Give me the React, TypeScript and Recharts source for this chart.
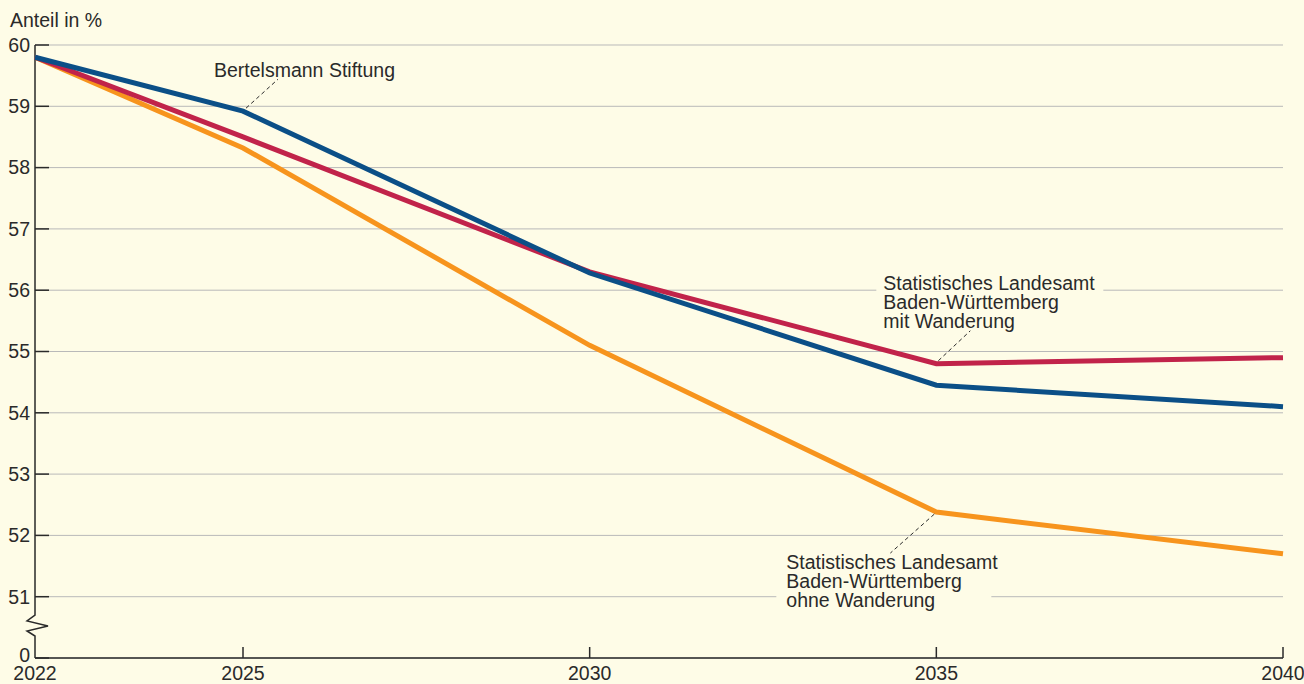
import { LineChart, Line, XAxis, YAxis, CartesianGrid, ReferenceLine, LabelList } from "recharts";

const years = [2022, 2025, 2030, 2035, 2040];
const bertelsmann = [59.8, 58.92, 56.28, 54.45, 54.1];
const mitWanderung = [59.8, 58.5, 56.3, 54.8, 54.9];
const ohneWanderung = [59.8, 58.32, 55.1, 52.38, 51.7];
const yTicks = [50, 51, 52, 53, 54, 55, 56, 57, 58, 59, 60];
const yTickLabels: Record<number, string> = { 50: "0" };

const data = years.map((year, i) => ({
  year,
  bertelsmann: bertelsmann[i],
  mit: mitWanderung[i],
  ohne: ohneWanderung[i],
}));

const BG = "#fefce7";
const TEXT = "#2a2a2a";
const FONT = "'Liberation Sans', Arial, sans-serif";
const FS = 19.5;
const LH = 19;

const YTick = ({ x, y, payload }: any) => (
  <g>
    <line x1={x} y1={y} x2={x + 14} y2={y} stroke={TEXT} strokeWidth={1.5} />
    <text x={x - 5} y={payload.value === 50 ? y - 3 : y} dy="0.35em" textAnchor="end" fontSize={FS} fill={TEXT} fontFamily={FONT}>
      {yTickLabels[payload.value] ?? String(payload.value)}
    </text>
  </g>
);

const XTick = ({ x, y, payload, index }: any) => (
  <g>
    {index > 0 && <line x1={x} y1={y} x2={x} y2={y - 11} stroke={TEXT} strokeWidth={1.5} />}
    <text x={x} y={y + 22} textAnchor="middle" fontSize={FS} fill={TEXT} fontFamily={FONT}>
      {payload.value}
    </text>
  </g>
);

// broken y axis: straight line down to just below 51, zigzag, then on to 0
const BrokenAxis = ({ x1, y1, x2, y2 }: any) => {
  const x = x1;
  const top = Math.min(y1, y2);
  const bot = Math.max(y1, y2);
  const pts = [
    [x, top],
    [x, bot - 43],
    [x - 8, bot - 37],
    [x + 13, bot - 32],
    [x - 8, bot - 27],
    [x, bot - 22],
    [x, bot],
  ];
  return (
    <polyline
      points={pts.map((p) => p.join(",")).join(" ")}
      fill="none"
      stroke={TEXT}
      strokeWidth={1.5}
    />
  );
};

const Note = ({ lines, tx, ty, lx1, ly1, lx2, ly2, rect }: any) => (
  <g>
    {rect && <rect x={rect[0]} y={rect[1]} width={rect[2]} height={rect[3]} fill={BG} />}
    <line x1={lx1} y1={ly1} x2={lx2} y2={ly2} stroke={TEXT} strokeWidth={1} strokeDasharray="4 3" />
    <text x={tx} y={ty} fontSize={FS} fill={TEXT} fontFamily={FONT}>
      {lines.map((l: string, i: number) => (
        <tspan key={i} x={tx} dy={i === 0 ? 0 : LH}>
          {l}
        </tspan>
      ))}
    </text>
  </g>
);

const makeLabel = (target: number, kind: string) => (props: any) => {
  const { x, y, index } = props;
  if (index !== target) return null;
  if (kind === "b")
    return <Note lines={["Bertelsmann Stiftung"]} tx={x - 29} ty={y - 34} lx1={x + 3} ly1={y - 3} lx2={x + 35} ly2={y - 32} />;
  if (kind === "m")
    return (
      <Note
        lines={["Statistisches Landesamt", "Baden-Württemberg", "mit Wanderung"]}
        tx={x - 53}
        ty={y - 74}
        lx1={x + 2}
        ly1={y - 3}
        lx2={x + 34}
        ly2={y - 33}
        rect={[x - 60, y - 90, 227, 58]}
      />
    );
  return (
    <Note
      lines={["Statistisches Landesamt", "Baden-Württemberg", "ohne Wanderung"]}
      tx={x - 150}
      ty={y + 57}
      lx1={x - 2}
      ly1={y + 2}
      lx2={x - 46}
      ly2={y + 41}
      rect={[x - 160, y + 41, 215, 60]}
    />
  );
};

export default function App() {
  return (
    <div style={{ position: "absolute", left: 0, top: 0, width: 1304, height: 684, background: BG, overflow: "hidden" }}>
      <div style={{ position: "absolute", left: 10, top: 8, fontSize: FS, fontFamily: FONT, color: TEXT, lineHeight: "24px" }}>
        Anteil in %
      </div>
      <LineChart width={1304} height={684} data={data} margin={{ top: 45, right: 21, bottom: 0, left: 0 }}>
        <CartesianGrid vertical={false} stroke="#b9b9b9" strokeWidth={1} />
        <XAxis
          dataKey="year"
          type="number"
          domain={[2022, 2040]}
          ticks={years}
          height={26}
          tickSize={0}
          tickMargin={0}
          tick={<XTick />}
          axisLine={{ stroke: TEXT, strokeWidth: 1.5 }}
          tickLine={false}
          interval={0}
        />
        <YAxis
          type="number"
          domain={[50, 60]}
          ticks={yTicks}
          width={35}
          tickSize={0}
          tickMargin={0}
          tick={<YTick />}
          axisLine={false}
          tickLine={false}
          interval={0}
        />
        <ReferenceLine
          segment={[
            { x: 2022, y: 60 },
            { x: 2022, y: 50 },
          ]}
          shape={<BrokenAxis />}
        />
        <Line type="linear" dataKey="ohne" stroke="#f7941d" strokeWidth={5} dot={false} isAnimationActive={false}>
          <LabelList dataKey="ohne" content={makeLabel(3, "o")} />
        </Line>
        <Line type="linear" dataKey="mit" stroke="#c1234a" strokeWidth={5} dot={false} isAnimationActive={false}>
          <LabelList dataKey="mit" content={makeLabel(3, "m")} />
        </Line>
        <Line type="linear" dataKey="bertelsmann" stroke="#0b4f87" strokeWidth={5} dot={false} isAnimationActive={false}>
          <LabelList dataKey="bertelsmann" content={makeLabel(1, "b")} />
        </Line>
      </LineChart>
    </div>
  );
}
